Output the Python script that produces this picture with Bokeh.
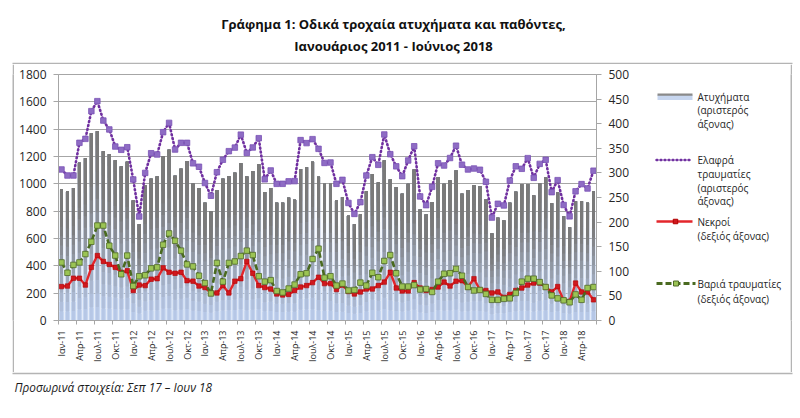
import numpy as np
from math import pi
from bokeh.plotting import figure
from bokeh.layouts import column, row
from bokeh.models import Range1d, LinearAxis, FixedTicker, ColumnDataSource
from bokeh.core.properties import value
from bokeh.embed import file_html
from bokeh.resources import INLINE

# ---------------- data (Jan 2011 - Jun 2018, monthly) ----------------
accidents = [
    960, 945, 970, 1155, 1188, 1370, 1385, 1239, 1217, 1173, 1127, 1162,
    878, 705, 988, 1038, 1053, 1202, 1249, 1059, 1111, 1167, 1002, 968,
    862, 800, 955, 1037, 1056, 1082, 1150, 1054, 1094, 1144, 940, 970,
    862, 862, 898, 884, 1109, 1121, 1162, 1052, 1000, 1000, 878, 902,
    767, 704, 776, 946, 1072, 1010, 1171, 1032, 976, 927, 1000, 1104,
    812, 775, 867, 1049, 1000, 1024, 1098, 927, 955, 989, 982, 885,
    637, 751, 732, 862, 942, 999, 999, 914, 1006, 1047, 858, 936,
    762, 683, 873, 873, 862, 946]

light_injured = [
    1105, 1061, 1061, 1300, 1329, 1532, 1605, 1463, 1398, 1273, 1249, 1268,
    1032, 761, 1080, 1224, 1215, 1378, 1446, 1251, 1300, 1300, 1150, 1125,
    1006, 913, 1085, 1176, 1239, 1265, 1360, 1226, 1266, 1334, 1033, 1098,
    1000, 1000, 1018, 1020, 1320, 1298, 1327, 1256, 1153, 1156, 1000, 1029,
    860, 780, 866, 1061, 1195, 1139, 1361, 1217, 1128, 1056, 1171, 1275,
    908, 844, 978, 1150, 1134, 1189, 1279, 1140, 1105, 1112, 1103, 1015,
    753, 854, 842, 1024, 1128, 1110, 1188, 1044, 1146, 1176, 939, 1027,
    845, 762, 945, 998, 966, 1096]

deaths = [
    69, 70, 86, 86, 72, 108, 132, 120, 114, 108, 98, 101,
    61, 72, 71, 84, 85, 107, 98, 96, 98, 81, 80, 70,
    67, 56, 56, 71, 56, 80, 85, 120, 96, 71, 67, 64,
    54, 52, 53, 61, 68, 71, 77, 88, 75, 75, 63, 72,
    59, 54, 58, 64, 64, 71, 78, 98, 66, 60, 60, 77,
    66, 61, 63, 68, 78, 70, 80, 81, 68, 85, 62, 61,
    56, 58, 47, 53, 61, 66, 72, 76, 76, 68, 58, 69,
    41, 39, 76, 58, 58, 42]

serious_injured = [
    118, 97, 113, 118, 135, 160, 193, 193, 152, 132, 94, 132,
    70, 90, 92, 106, 108, 154, 177, 162, 142, 114, 110, 91,
    76, 55, 117, 79, 117, 120, 131, 142, 133, 90, 79, 82,
    60, 57, 65, 73, 94, 96, 125, 146, 87, 90, 71, 75,
    61, 62, 77, 71, 97, 88, 121, 133, 96, 69, 69, 72,
    63, 64, 58, 79, 95, 96, 105, 91, 68, 61, 62, 54,
    42, 42, 44, 45, 56, 79, 85, 85, 78, 68, 51, 45,
    41, 37, 53, 42, 66, 68]

tick_labels = [
    "Ιαν-11", "Απρ-11", "Ιουλ-11", "Οκτ-11",
    "Ιαν-12", "Απρ-12", "Ιουλ-12", "Οκτ-12",
    "Ιαν-13", "Απρ-13", "Ιουλ-13", "Οκτ-13",
    "Ιαν-14", "Απρ-14", "Ιουλ-14", "Οκτ-14",
    "Ιαν-15", "Απρ-15", "Ιουλ-15", "Οκτ-15",
    "Ιαν-16", "Απρ-16", "Ιουλ-16", "Οκτ-16",
    "Ιαν-17", "Απρ-17", "Ιουλ-17", "Οκτ-17",
    "Ιαν-18", "Απρ-18"]

left_ticks = list(range(0, 1801, 200))
right_ticks = list(range(0, 501, 50))

title_lines = ["Γράφημα 1: Οδικά τροχαία ατυχήματα και παθόντες,",
               "Ιανουάριος 2011 - Ιούνιος 2018"]
footnote = "Προσωρινά στοιχεία: Σεπ 17 – Ιουν 18"
legend_accidents = ["Ατυχήματα", "(αριστερός", "άξονας)"]
legend_light = ["Ελαφρά", "τραυματίες", "(αριστερός", "άξονας)"]
legend_deaths = ["Νεκροί", "(δεξιός άξονας)"]
legend_serious = ["Βαριά τραυματίες", "(δεξιός άξονας)"]

FONT = "Open Sans"
TXC = "#262626"
AXC = "#a6a6a6"
BC = "#b4b4b4"

# geometry in screen px
TOTAL_W = 798
TOP_H = 64                  # y 0..64
ROW_Y0, ROW_Y1 = 64, 372    # bordered chart area
FOOT_H = 40
FL, FR, FT, FB = 58, 596, 74, 320   # plot frame
BX0, BX1 = 12, 790          # border strips (2 px wide each)
MAIN_X0, MAIN_X1 = BX0 + 2, 640
LEG_X0, LEG_X1 = 640, BX1
MB_TOP, MB_BOT = FT - ROW_Y0, ROW_Y1 - FB


def blank_fig(x0, x1, y0, y1, top=0, bottom=0, fill="white"):
    f = figure(width=int(round(x1 - x0)), height=int(round(y1 - y0 + top + bottom)),
               output_backend="svg", toolbar_location=None,
               x_range=Range1d(x0, x1), y_range=Range1d(y1, y0),
               x_axis_location=None, y_axis_location=None, title=None,
               min_border_left=0, min_border_right=0,
               min_border_top=top, min_border_bottom=bottom)
    f.grid.visible = False
    f.outline_line_color = None
    f.background_fill_color = fill
    f.border_fill_color = fill
    f.margin = 0
    return f


def put_text(f, xs, ys, texts, size, align="left", style="normal", color=TXC):
    f.text(x=xs, y=ys, text=texts, text_font=value(FONT), text_font_size=value(f"{size}px"),
           text_align=align, text_baseline="middle", text_font_style=style, text_color=color)


# ---------------- title ----------------
ft = blank_fig(0, TOTAL_W, 0, TOP_H)
put_text(ft, [393, 393], [23, 45], title_lines, 13, align="center", style="bold", color="#111111")
ft.quad(left=[BX0], right=[BX1 + 2], top=[62.2], bottom=[TOP_H], fill_color=BC, line_color=None)

# ---------------- strips making left/right border ----------------
ws1 = blank_fig(0, BX0, FT, FB, MB_TOP, MB_BOT)
gs1 = blank_fig(BX0, BX0 + 2, FT, FB, MB_TOP, MB_BOT, fill=BC)
gs2 = blank_fig(BX1, BX1 + 2, FT, FB, MB_TOP, MB_BOT, fill=BC)
ws2 = blank_fig(BX1 + 2, TOTAL_W, FT, FB, MB_TOP, MB_BOT)

# ---------------- main chart ----------------
n = len(accidents)
x = list(range(n))
p = figure(width=MAIN_X1 - MAIN_X0, height=ROW_Y1 - ROW_Y0, output_backend="svg",
           toolbar_location=None, title=None,
           x_range=Range1d(-0.5, n - 0.5), y_range=Range1d(0, 1800),
           min_border_left=FL - MAIN_X0, min_border_right=MAIN_X1 - FR,
           min_border_top=MB_TOP, min_border_bottom=MB_BOT)
p.margin = 0
p.background_fill_color = "white"
p.border_fill_color = "white"
p.outline_line_color = AXC
p.xgrid.visible = False
p.ygrid.grid_line_color = AXC
p.ygrid.grid_line_width = 1
p.ygrid.ticker = FixedTicker(ticks=left_ticks)
p.extra_y_ranges = {"right": Range1d(0, 500)}

# bars with vertical gradient (light-blue halo + grey core)
NS = 14
ox, ob, ot, oa = [], [], [], []
ix, ib, it, ic = [], [], [], []
blue = np.array([186, 204, 236])
grey = np.array([122, 122, 122])
for i, v in enumerate(accidents):
    for k in range(NS):
        f0, f1 = k / NS, (k + 1) / NS
        fm = (f0 + f1) / 2
        ox.append(i); ob.append(v * f0); ot.append(v * f1)
        oa.append(float(np.clip(1.3 * (1 - fm) - 0.2, 0, 0.95)))
        t = min(1.0, fm / 0.72)
        c = (blue * (1 - t) + grey * t).astype(int)
        ix.append(i); ib.append(v * f0); it.append(v)
        ic.append("#%02x%02x%02x" % tuple(c))

p.vbar(x="x", bottom="b", top="t", width=0.92, fill_color="#c4d5f0", fill_alpha="a",
       line_color=None, source=ColumnDataSource(dict(x=ox, b=ob, t=ot, a=oa)))
p.vbar(x="x", bottom="b", top="t", width=0.5, fill_color="c", line_color=None,
       source=ColumnDataSource(dict(x=ix, b=ib, t=it, c=ic)))

# light injuries (left axis)
p.line(x, light_injured, line_color="#7030a0", line_width=2.6, line_dash="1 3",
       line_cap="round")
p.scatter(x, light_injured, marker="square", size=5.5, fill_color="#8e6cc4",
          line_color="#7a52b5", line_width=0.8)
# deaths (right axis)
p.line(x, deaths, y_range_name="right", line_color="#e3262b", line_width=2.4)
p.scatter(x, deaths, y_range_name="right", marker="square", size=4.5,
          fill_color="#d0181e", line_color="#b00000", line_width=0.6)
# serious injuries (right axis)
p.line(x, serious_injured, y_range_name="right", line_color="#4a6a20",
       line_width=2.6, line_dash="6 3")
p.scatter(x, serious_injured, y_range_name="right", marker="square", size=5.5,
          fill_color="#9bc454", line_color="#4f6a28", line_width=0.8)

la = p.yaxis[0]
la.ticker = FixedTicker(ticks=left_ticks)
ra = LinearAxis(y_range_name="right", ticker=FixedTicker(ticks=right_ticks))
p.add_layout(ra, "right")
for ax in (la, ra):
    ax.axis_line_color = AXC
    ax.major_tick_line_color = AXC
    ax.major_tick_out = 5
    ax.major_tick_in = 0
    ax.minor_tick_line_color = None
    ax.major_label_text_font = FONT
    ax.major_label_text_font_size = "12px"
    ax.major_label_text_color = TXC
    ax.major_label_standoff = 7

xa = p.xaxis[0]
xa.ticker = FixedTicker(ticks=list(range(0, n, 3)),
                        minor_ticks=[i - 0.5 for i in range(0, n + 1, 3)])
xa.major_label_overrides = {i * 3: lab for i, lab in enumerate(tick_labels)}
xa.major_label_orientation = pi / 2
xa.major_tick_line_color = None
xa.minor_tick_line_color = AXC
xa.minor_tick_out = 4
xa.minor_tick_in = 0
xa.axis_line_color = AXC
xa.major_label_text_font = FONT
xa.major_label_text_font_size = "9px"
xa.major_label_text_color = TXC
xa.major_label_standoff = 4

# ---------------- legend panel (frame aligned with chart frame) ----------------
fl = blank_fig(LEG_X0, LEG_X1, FT, FB, MB_TOP, MB_BOT)
fl.segment(x0=[657], y0=[97], x1=[692], y1=[97], line_color="#c7d6ef", line_width=5)
fl.segment(x0=[657], y0=[94.2], x1=[692], y1=[94.2], line_color="#8a8a8a", line_width=2.2)
fl.segment(x0=[656], y0=[159.5], x1=[692], y1=[159.5], line_color="#7030a0", line_width=2.4,
           line_dash="1 3", line_cap="round")
fl.segment(x0=[656], y0=[221], x1=[692], y1=[221], line_color="#e3262b", line_width=2.4)
fl.scatter(x=[675], y=[221], marker="square", size=4.5, fill_color="#d0181e", line_color="#b00000")
fl.segment(x0=[656], y0=[283], x1=[695], y1=[283], line_color="#4a6a20", line_width=2.8,
           line_dash="6 3")
fl.scatter(x=[675.5], y=[283], marker="square", size=5, fill_color="#9bc454", line_color="#4f6a28")

lx, ly, lt = [], [], []
for j, s in enumerate(legend_accidents):
    lx.append(697); ly.append(96 + 13.7 * j); lt.append(s)
for j, s in enumerate(legend_light):
    lx.append(697); ly.append(159.5 + 13.8 * j); lt.append(s)
for j, s in enumerate(legend_deaths):
    lx.append(697); ly.append(221 + 14.7 * j); lt.append(s)
for j, s in enumerate(legend_serious):
    lx.append(697); ly.append(283.5 + 15 * j); lt.append(s)
put_text(fl, lx, ly, lt, 10)

# ---------------- footnote ----------------
ff = blank_fig(0, TOTAL_W, ROW_Y1, ROW_Y1 + FOOT_H)
ff.quad(left=[BX0], right=[BX1 + 2], top=[ROW_Y1], bottom=[ROW_Y1 + 1.8], fill_color=BC, line_color=None)
put_text(ff, [14], [386], [footnote], 11.8, style="italic", color="#1a1a1a")

layout = column(ft, row(ws1, gs1, p, fl, gs2, ws2, spacing=0), ff, spacing=0)
open("out.html", "w").write(file_html(layout, INLINE))
